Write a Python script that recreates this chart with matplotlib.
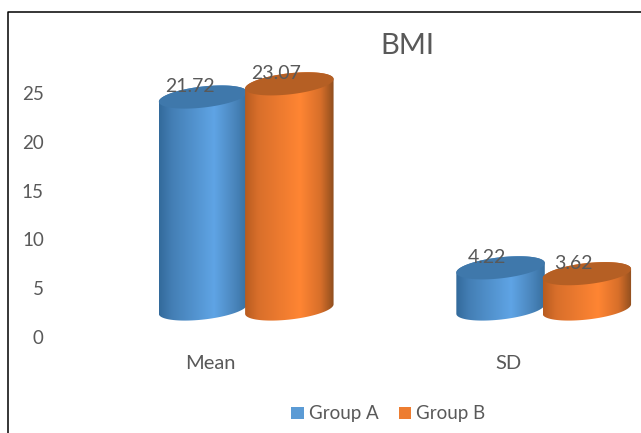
import numpy as np
import matplotlib
matplotlib.use('Agg')
import matplotlib.pyplot as plt
from matplotlib.colors import LinearSegmentedColormap
from matplotlib.lines import Line2D
from matplotlib.patches import Patch, Polygon

categories = ['Mean', 'SD']
group_a = [21.72, 4.22]
group_b = [23.07, 3.62]
y_ticks = [0, 5, 10, 15, 20, 25]

plt.rcParams['font.family'] = ['Lato', 'DejaVu Sans']
TEXT = '#595959'

W, H = 641, 433
fig = plt.figure(figsize=(W / 100, H / 100), dpi=100)
ax = fig.add_axes([48 / W, (H - 350) / H, (W - 48) / W, 350 / H])

# pixels per data unit on each axis
PX_X = 297.5
PX_Y = 9.76
XLIM = ((48 - 210.5) / PX_X, (W - 210.5) / PX_X)
YLIM = (-13 / PX_Y, 337 / PX_Y)
for s in ax.spines.values():
    s.set_visible(False)
ax.set_xticks(range(len(categories)), categories)
ax.set_yticks(y_ticks)
ax.tick_params(axis='x', length=0, pad=3.5, labelsize=14.5, labelcolor=TEXT)
ax.tick_params(axis='y', length=0, pad=3, labelsize=13.5, labelcolor=TEXT)

# fake 3d: cylinders sit above the zero line and have tilted ellipse ends
DEPTH = 28 / PX_Y
SEMI_A, SEMI_B = 44.5, 10.5
TILT = np.radians(6.5)

blue = LinearSegmentedColormap.from_list('blue', [(0, '#336A9B'), (0.15, '#447FB5'), (0.62, '#5FA4E5'), (0.85, '#4A86BD'), (1, '#386F9F')])
orange = LinearSegmentedColormap.from_list('orange', [(0, '#B85C20'), (0.15, '#D96F2B'), (0.62, '#FF8533'), (0.85, '#D86F2A'), (1, '#8F4E1E')])
grad = np.linspace(0, 1, 256).reshape(1, -1)


def ellipse(cx, cy, t):
    x = cx + (SEMI_A * np.cos(t) * np.cos(TILT) - SEMI_B * np.sin(t) * np.sin(TILT)) / PX_X
    y = cy + (SEMI_A * np.cos(t) * np.sin(TILT) + SEMI_B * np.sin(t) * np.cos(TILT)) / PX_Y
    return np.column_stack([x, y])


def cylinder(x, value, cmap, top_color):
    top = DEPTH + value
    t0 = np.arctan2(-SEMI_B * np.sin(TILT), SEMI_A * np.cos(TILT))
    lower = ellipse(x, DEPTH, np.linspace(t0, t0 - np.pi, 60))
    upper = ellipse(x, top, np.linspace(t0 - np.pi, t0 - 2 * np.pi, 60))
    body = Polygon(np.vstack([lower, upper]), closed=True, transform=ax.transData, fc='none', ec='none')
    ax.add_patch(body)
    half = np.abs(lower[:, 0] - x).max()
    img = ax.imshow(grad, cmap=cmap, aspect='auto', vmin=0, vmax=1,
                    extent=[x - half, x + half, DEPTH - 2, top + 2],
                    interpolation='bilinear', zorder=2)
    img.set_clip_path(body)
    cap = ellipse(x, top, np.linspace(0, 2 * np.pi, 120))
    ax.add_patch(Polygon(cap, closed=True, fc=top_color, ec='none', zorder=2))


offsets = [-0.025, 0.265]
for i in range(len(categories)):
    cylinder(i + offsets[0], group_a[i], blue, '#3F78AB')
    cylinder(i + offsets[1], group_b[i], orange, '#B55F24')

ax.set_xlim(XLIM)
ax.set_ylim(YLIM)

for i in range(len(categories)):
    for off, vals in zip(offsets, [group_a, group_b]):
        ax.annotate(f'{vals[i]:.2f}', (i + off, DEPTH + vals[i]), xytext=(-9.5, 7.5),
                    textcoords='offset points', ha='center', va='center',
                    fontsize=14, color=TEXT, zorder=5)

ax.set_title('BMI', x=(407 - 48) / (W - 48), y=(350 - 54) / 350, fontsize=21, color=TEXT, pad=0)

handles = [Patch(fc='#5B9BD5', label='Group A'), Patch(fc='#ED7D31', label='Group B')]
fig.legend(handles=handles, loc='center', bbox_to_anchor=(388.5 / W, (H - 414) / H), ncol=2,
           frameon=False, fontsize=13.5, labelcolor=TEXT, handlelength=0.65, handleheight=0.65,
           handletextpad=0.3, columnspacing=1.05)

# black outline of the pasted chart: only top and left show
fig.add_artist(Line2D([8 / W, 8 / W, 1], [0, (H - 12) / H, (H - 12) / H], color='black', lw=1.1))

fig.savefig('out.png', dpi=100)
